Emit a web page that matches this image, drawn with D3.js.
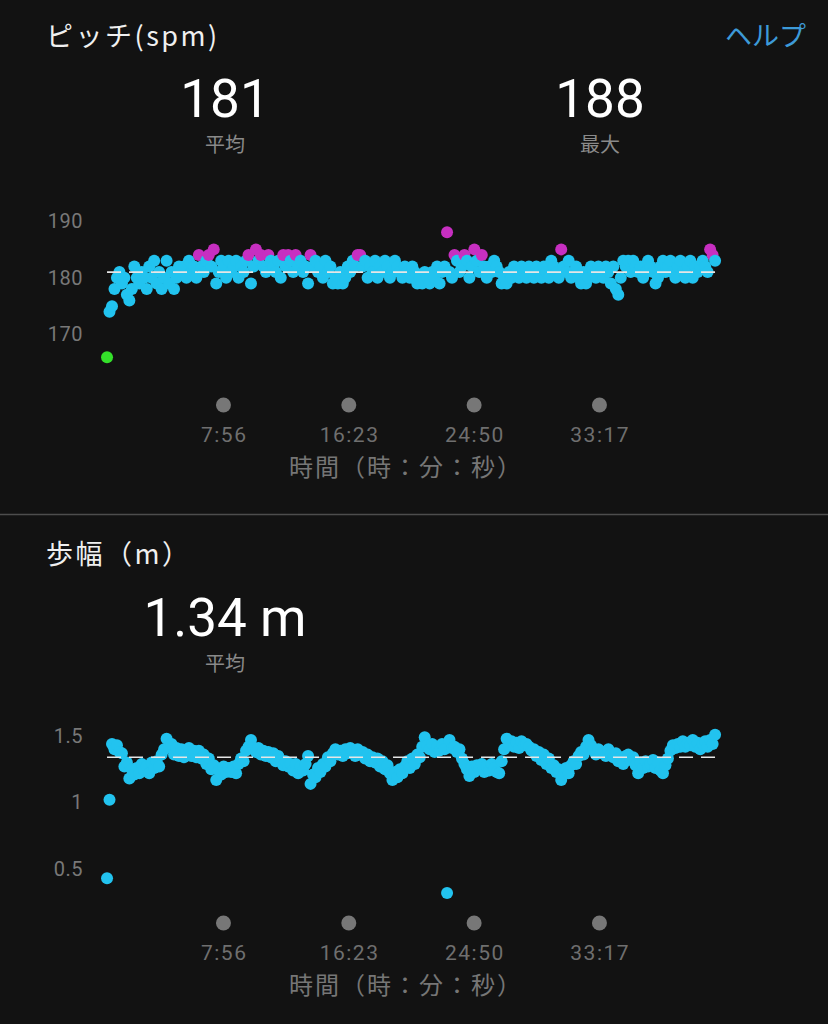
<!DOCTYPE html>
<html>
<head>
<meta charset="utf-8">
<script src="https://cdn.jsdelivr.net/npm/d3@7/dist/d3.min.js"></script>
<style>
  html, body { margin: 0; padding: 0; background: #121212; }
  svg { display: block; }
  .jp { font-family: "Noto Sans CJK JP", "Noto Sans", sans-serif; }
  .num { font-family: Roboto, "Noto Sans", sans-serif; }
</style>
</head>
<body>
<script>
// ---------- data ----------
const sampleStartSec = 7;
const sampleStepSec = 10.04;

const cadenceSpm = [
  166,174,175,178,180,181,179,180,177,176,
  178,182,180,179,181,180,178,182,180,183,
  179,181,178,180,183,179,181,178,180,182,
  181,182,180,183,181,182,180,184,182,181,
  183,184,182,185,179,181,183,182,180,183,
  181,182,183,180,182,181,183,184,179,182,
  185,183,184,182,181,184,183,182,181,183,
  180,184,182,184,183,181,184,182,183,181,
  182,179,184,182,183,181,182,180,183,181,
  182,179,180,179,181,179,180,182,181,183,
  182,184,184,182,183,180,182,181,183,180,
  182,181,183,182,180,181,183,182,181,180,
  182,181,180,182,181,179,180,179,181,180,
  179,181,180,182,179,181,182,188,181,180,
  184,183,181,182,184,183,180,182,185,183,
  181,184,182,180,182,181,183,182,181,179,
  180,179,181,180,182,181,180,182,181,180,
  182,181,180,182,181,180,182,181,180,183,
  182,181,180,185,182,181,183,180,181,182,
  180,179,181,179,180,182,181,180,182,181,
  180,182,181,179,182,178,177,180,183,182,
  183,181,183,182,181,182,180,181,183,182,
  181,179,180,182,183,181,182,183,181,180,
  182,183,181,180,182,183,180,182,181,182,
  183,182,181,185,184,183
];

const strideM = [
  0.43,1.02,1.44,1.40,1.43,1.38,1.37,1.27,1.30,1.18,
  1.25,1.21,1.26,1.22,1.29,1.24,1.27,1.22,1.30,1.26,
  1.31,1.27,1.36,1.40,1.48,1.42,1.44,1.36,1.41,1.35,
  1.40,1.34,1.39,1.41,1.35,1.39,1.34,1.39,1.33,1.36,
  1.29,1.33,1.25,1.28,1.17,1.24,1.21,1.27,1.23,1.26,
  1.23,1.27,1.22,1.29,1.33,1.31,1.39,1.42,1.47,1.41,
  1.38,1.41,1.36,1.39,1.35,1.38,1.34,1.37,1.31,1.35,
  1.32,1.28,1.31,1.27,1.29,1.24,1.29,1.22,1.27,1.24,
  1.29,1.35,1.14,1.21,1.19,1.26,1.23,1.29,1.27,1.34,
  1.31,1.37,1.40,1.36,1.39,1.35,1.40,1.37,1.41,1.38,
  1.35,1.40,1.36,1.38,1.33,1.36,1.31,1.34,1.30,1.33,
  1.27,1.31,1.25,1.28,1.22,1.17,1.23,1.19,1.25,1.22,
  1.27,1.31,1.26,1.33,1.29,1.36,1.34,1.42,1.49,1.43,
  1.40,1.44,1.38,1.42,1.39,1.44,1.40,0.32,1.47,1.41,
  1.42,1.38,1.40,1.33,1.29,1.25,1.20,1.27,1.23,1.28,
  1.25,1.29,1.23,1.27,1.24,1.29,1.26,1.23,1.22,1.31,
  1.40,1.48,1.43,1.46,1.42,1.45,1.41,1.46,1.43,1.44,
  1.42,1.39,1.40,1.35,1.38,1.32,1.36,1.29,1.33,1.26,
  1.28,1.23,1.25,1.17,1.21,1.26,1.22,1.28,1.31,1.29,
  1.35,1.38,1.36,1.42,1.47,1.43,1.39,1.36,1.40,1.37,
  1.38,1.35,1.40,1.36,1.34,1.37,1.31,1.34,1.29,1.35,
  1.36,1.32,1.34,1.28,1.22,1.30,1.26,1.31,1.27,1.29,
  1.32,1.26,1.30,1.24,1.22,1.28,1.33,1.39,1.43,1.41,
  1.44,1.42,1.46,1.42,1.45,1.43,1.47,1.42,1.45,1.40,
  1.44,1.46,1.42,1.47,1.44,1.51
];

const timeTickSec = [476, 983, 1490, 1997];
const cadenceTicks = [170, 180, 190];
const strideTicks = [0.5, 1, 1.5];

const cadenceAvg = 181;
const cadenceMax = 188;
const strideAvg = 1.34;

// ---------- layout ----------
const W = 828, H = 1024;
const svg = d3.select("body").append("svg").attr("width", W).attr("height", H);
svg.append("rect").attr("width", W).attr("height", H).attr("fill", "#121212");

const x = d3.scaleLinear().domain([0, 2500]).range([105.3, 723.3]);
const yCad = d3.scaleLinear().domain([170, 190]).range([334.5, 221]);
const yStr = d3.scaleLinear().domain([0.5, 1.5]).range([869, 736]);

const cadColor = v => v >= 184 ? "#c72fc1" : (v >= 174 ? "#22c3ef" : "#34e02a");
const fmtTime = s => `${Math.floor(s / 60)}:${String(s % 60).padStart(2, "0")}`;
const dotR = 6;

// divider
svg.append("line").attr("x1", 0).attr("x2", W).attr("y1", 514.5).attr("y2", 514.5)
  .attr("stroke", "#4d4d4d").attr("stroke-width", 1.5);

function header(g, title, titleY) {
  g.append("text").attr("class", "jp").attr("x", 46).attr("y", titleY)
    .attr("font-size", 27).attr("letter-spacing", 2.5).attr("fill", "#f0f0f0").text(title);
}
function bigStat(g, cx, baseY, value, label) {
  g.append("text").attr("class", "num").attr("x", cx).attr("y", baseY)
    .attr("text-anchor", "middle").attr("font-size", 53).attr("font-weight", 400)
    .attr("fill", "#ffffff").text(value);
  g.append("text").attr("class", "jp").attr("x", cx).attr("y", baseY + 35)
    .attr("text-anchor", "middle").attr("font-size", 20).attr("fill", "#8a8a8a").text(label);
}
function timeAxis(yDots) {
  const ax = d3.axisBottom(x).tickValues(timeTickSec).tickFormat(fmtTime)
    .tickSize(0).tickPadding(22);
  const g = svg.append("g").attr("transform", `translate(0,${yDots})`).call(ax);
  g.select(".domain").remove();
  g.selectAll(".tick text").attr("class", "num").attr("font-size", 21)
    .attr("letter-spacing", 1.5).attr("dx", 0.75).attr("fill", "#6f6f6f");
  g.selectAll(".tick").append("circle").attr("r", 7.5).attr("cy", 0).attr("fill", "#777777");
  svg.append("text").attr("class", "jp").attr("x", 406).attr("y", yDots + 71)
    .attr("text-anchor", "middle").attr("font-size", 24).attr("letter-spacing", 2)
    .attr("fill", "#767676").text("時間（時：分：秒）");
}
function valueAxis(scale, ticks, fmt) {
  const ax = d3.axisLeft(scale).tickValues(ticks).tickFormat(fmt).tickSize(0).tickPadding(0);
  const g = svg.append("g").attr("transform", "translate(83,0)").call(ax);
  g.select(".domain").remove();
  g.selectAll(".tick text").attr("class", "num").attr("font-size", 20)
    .attr("letter-spacing", 0.5).attr("fill", "#787878");
}

// ---------- top: cadence ----------
const topPanel = svg.append("g");
header(topPanel, "ピッチ(spm)", 46);
topPanel.append("text").attr("class", "jp").attr("x", 806).attr("y", 46).attr("text-anchor", "end")
  .attr("font-size", 27).attr("fill", "#3d9ad8").text("ヘルプ");
bigStat(topPanel, 225, 117, String(cadenceAvg), "平均");
bigStat(topPanel, 600, 117, String(cadenceMax), "最大");
valueAxis(yCad, cadenceTicks, d => d);

svg.append("g").selectAll("circle").data(cadenceSpm).join("circle")
  .attr("cx", (d, i) => x(sampleStartSec + i * sampleStepSec))
  .attr("cy", d => yCad(d))
  .attr("r", dotR)
  .attr("fill", d => cadColor(d));

svg.append("line")
  .attr("x1", x(sampleStartSec)).attr("x2", x(sampleStartSec + (cadenceSpm.length - 1) * sampleStepSec) + 3)
  .attr("y1", yCad(cadenceAvg)).attr("y2", yCad(cadenceAvg))
  .attr("stroke", "#e6e6e6").attr("stroke-width", 1.6).attr("stroke-dasharray", "14 8");

timeAxis(405);

// ---------- bottom: stride ----------
const botPanel = svg.append("g");
header(botPanel, "歩幅（m）", 564);
bigStat(botPanel, 225, 636, `${strideAvg.toFixed(2)} m`, "平均");
valueAxis(yStr, strideTicks, d => String(d));

svg.append("g").selectAll("circle").data(strideM).join("circle")
  .attr("cx", (d, i) => x(sampleStartSec + i * sampleStepSec))
  .attr("cy", d => yStr(d))
  .attr("r", dotR)
  .attr("fill", "#22c3ef");

svg.append("line")
  .attr("x1", x(sampleStartSec)).attr("x2", x(sampleStartSec + (strideM.length - 1) * sampleStepSec) + 3)
  .attr("y1", yStr(strideAvg)).attr("y2", yStr(strideAvg))
  .attr("stroke", "#e6e6e6").attr("stroke-width", 1.6).attr("stroke-dasharray", "14 8");

timeAxis(923);
</script>
</body>
</html>
